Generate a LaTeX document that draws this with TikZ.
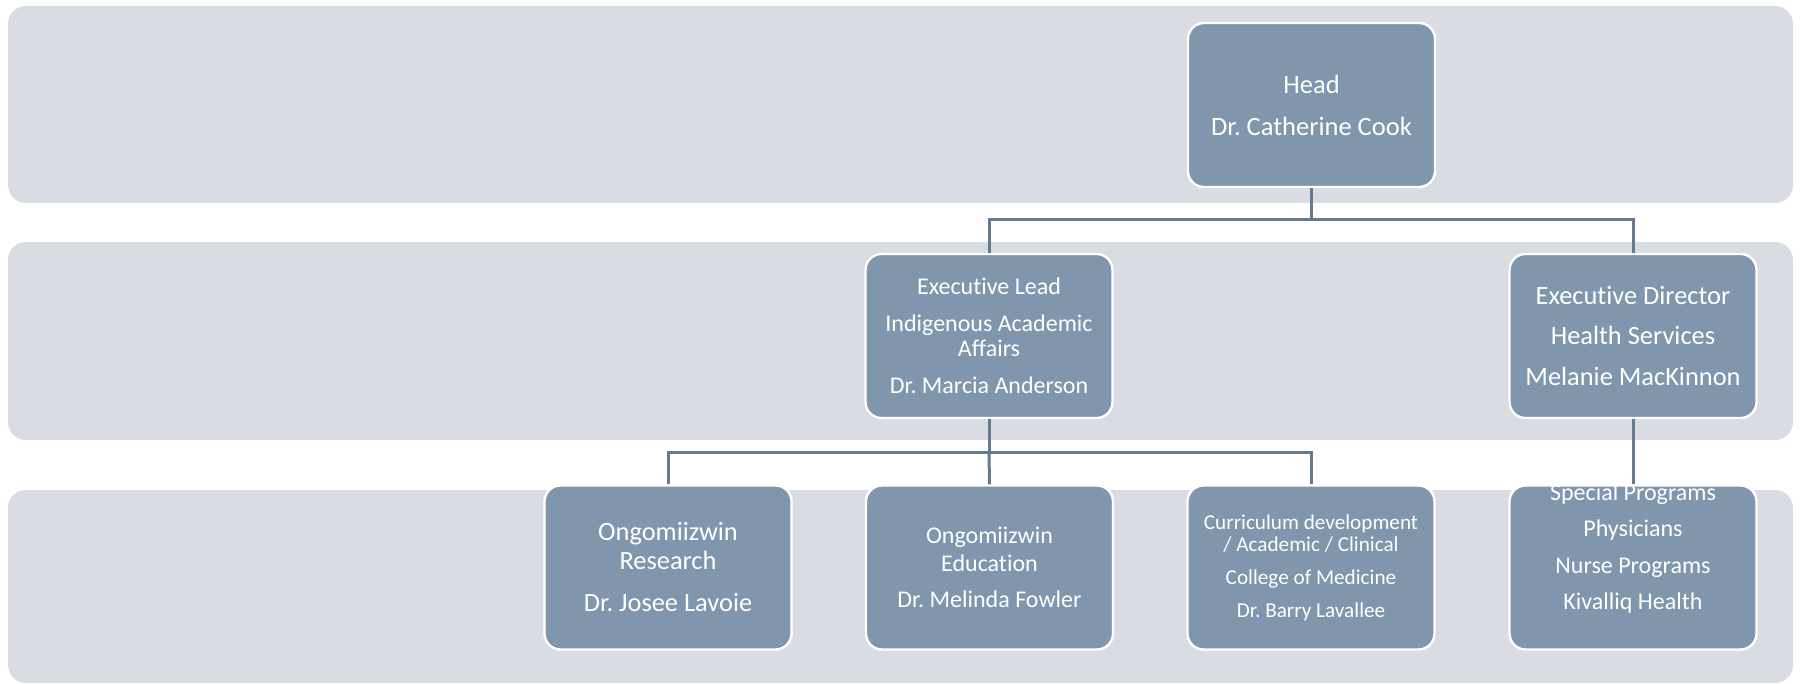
\documentclass[tikz,border=0pt]{standalone}
\usepackage{fontspec}
\setmainfont{Carlito}[RawFeature={-liga;-clig;-calt;-dlig}]
\frenchspacing
\begin{document}
\begin{tikzpicture}[x=0.5pt,y=-0.5pt,
  band/.style={fill=bandgray, rounded corners=9pt},
  unit/.style={draw=white, line width=1.2pt, fill=unitblue, rounded corners=8pt,
    minimum width=123.5pt, minimum height=82pt, inner sep=0pt},
  caption/.style={text=white, align=center, inner sep=0pt},
  link/.style={draw=linkblue, line width=1.5pt}]
\definecolor{bandgray}{HTML}{D9DDE3}
\definecolor{unitblue}{HTML}{7F96AC}
\definecolor{linkblue}{HTML}{637A91}
\useasboundingbox (0,0) rectangle (1800,684);

% three level bands
\fill[band] (8,6) rectangle (1793,203);
\fill[band] (8,242) rectangle (1793,440);
\fill[band] (8,490) rectangle (1793,683);

% units
\node[unit] (head) at (1311.5,105) {};
\node[unit] (lead) at (989,336) {};
\node[unit] (dir)  at (1633,336) {};
\node[unit] (res)  at (668,567.5) {};
\node[unit] (edu)  at (989.5,567.5) {};
\node[unit] (cur)  at (1311,567.5) {};
\node[unit] (spec) at (1633,567.5) {};

% unit captions
\node[caption, font=\fontsize{13.25pt}{21pt}\selectfont] (headtxt) at (head.center)
  {Head\\Dr. Catherine Cook};
\node[caption, font=\fontsize{12pt}{12.5pt}\selectfont] (leadtxt) at (lead.center)
  {Executive Lead\\[6pt]Indigenous Academic\\Affairs\\[6pt]Dr. Marcia Anderson};
\node[caption, font=\fontsize{13.2pt}{20.25pt}\selectfont] (dirtxt) at (dir.center)
  {Executive Director\\Health Services\\Melanie MacKinnon};
\node[caption, font=\fontsize{13.2pt}{14.5pt}\selectfont] (restxt) at (res.center)
  {Ongomiizwin\\Research\\[6.5pt]Dr. Josee Lavoie};
\node[caption, font=\fontsize{12pt}{14pt}\selectfont] (edutxt) at (edu.center)
  {Ongomiizwin\\Education\\[4pt]Dr. Melinda Fowler};
\node[caption, font=\fontsize{10.6pt}{11pt}\selectfont] (curtxt) at (cur.center)
  {Curriculum development\\/ Academic / Clinical\\[5.5pt]College of Medicine\\[5.5pt]Dr. Barry Lavallee};
\node[caption, font=\fontsize{12pt}{18.25pt}\selectfont] (spectxt) at ([yshift=9.5pt]spec.center)
  {Special Programs\\Physicians\\Nurse Programs\\Kivalliq Health};

% reporting lines
\coordinate (hb) at (1311.5,220);
\coordinate (lb) at (989,452);
\draw[link] (head.south) -- (hb) -| (lead.north);
\draw[link] (hb) -| (dir.north);
\draw[link] (lead.south) -- (lb) -| (res.north);
\draw[link] (lb) -| (cur.north);
\draw[link] (lb) -- (edu.north);
\draw[link] (dir.south) -- (spec.north);
\end{tikzpicture}
\end{document}
